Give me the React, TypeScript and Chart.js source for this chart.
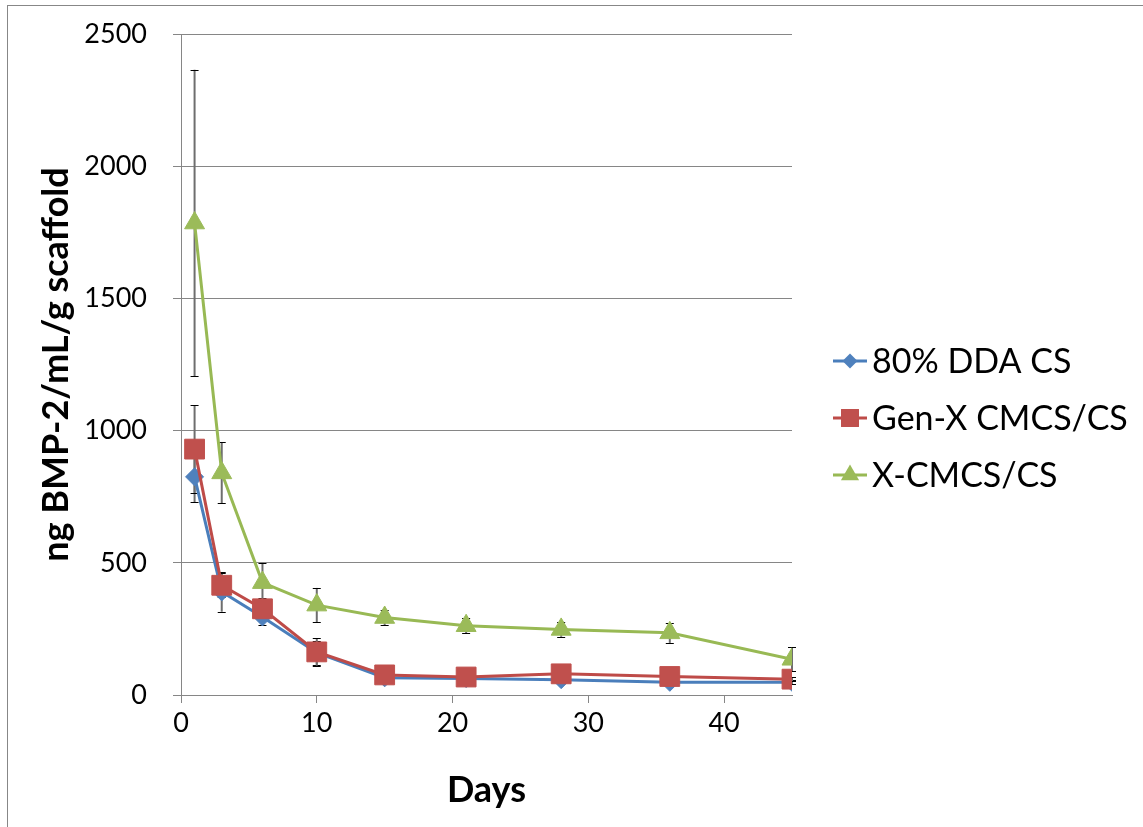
import React, { useEffect, useRef } from 'react';
import { Chart, registerables } from 'chart.js';

Chart.register(...registerables);

// ---- Data ----
const days = [1, 3, 6, 10, 15, 21, 28, 36, 45];
const seriesNames = ['80% DDA CS', 'Gen-X CMCS/CS', 'X-CMCS/CS'];
const ddaValues = [825, 390, 295, 160, 65, 62, 58, 48, 48];
const ddaErrors = [95, 75, 30, 45, 10, 8, 8, 8, 8];
const genxValues = [930, 415, 326, 163, 76, 68, 80, 70, 60];
const genxErrors = [165, 45, 40, 52, 10, 8, 8, 8, 8];
const xcmcsValues = [1785, 840, 425, 340, 293, 262, 248, 235, 135];
const xcmcsErrors = [580, 115, 75, 65, 30, 28, 28, 38, 45];
const xTicks = [0, 10, 20, 30, 40];
const yTicks = [0, 500, 1000, 1500, 2000, 2500];

const valueSets = [ddaValues, genxValues, xcmcsValues];
const errorSets = [ddaErrors, genxErrors, xcmcsErrors];
const lineColors = ['#4A7EBB', '#BE4B48', '#98B954'];
const fillColors = ['#4F81BD', '#C0504D', '#9BBB59'];
const pointStyles = ['rectRot', 'rect', 'triangle'];
const pointRadii = [9, 14, 11.5];

const FONT = 'Lato, "Open Sans", sans-serif';

function drawMarker(ctx: CanvasRenderingContext2D, style: string, x: number, y: number, r: number, color: string) {
  ctx.fillStyle = color;
  ctx.beginPath();
  if (style === 'rectRot') {
    ctx.moveTo(x, y - r);
    ctx.lineTo(x + r, y);
    ctx.lineTo(x, y + r);
    ctx.lineTo(x - r, y);
  } else if (style === 'rect') {
    const s = r * Math.SQRT1_2;
    ctx.rect(x - s, y - s, 2 * s, 2 * s);
  } else {
    ctx.moveTo(x, y - r);
    ctx.lineTo(x + r * Math.sin((2 * Math.PI) / 3), y + r / 2);
    ctx.lineTo(x - r * Math.sin((2 * Math.PI) / 3), y + r / 2);
  }
  ctx.closePath();
  ctx.fill();
}

const framePlugin = {
  id: 'frame',
  beforeDraw(chart: any) {
    const { ctx, width, height } = chart;
    ctx.save();
    ctx.fillStyle = '#ffffff';
    ctx.fillRect(0, 0, width, height);
    ctx.strokeStyle = '#878787';
    ctx.lineWidth = 1;
    ctx.strokeRect(7.5, 5.5, width + 10, height + 10);
    ctx.restore();
  },
};

const errorBarPlugin = {
  id: 'errorBars',
  beforeDatasetsDraw(chart: any) {
    const { ctx } = chart;
    const xs = chart.scales.x;
    const ys = chart.scales.y;
    ctx.save();
    errorSets.forEach((errs, i) => {
      const vals = valueSets[i];
      days.forEach((d, j) => {
        const px = xs.getPixelForValue(d);
        const top = ys.getPixelForValue(vals[j] + errs[j]);
        const bot = ys.getPixelForValue(Math.max(0, vals[j] - errs[j]));
        ctx.strokeStyle = '#6e6e6e';
        ctx.lineWidth = 2;
        ctx.beginPath();
        ctx.moveTo(px, top);
        ctx.lineTo(px, bot);
        ctx.stroke();
        ctx.strokeStyle = '#000000';
        ctx.lineWidth = 1;
        ctx.beginPath();
        const t = Math.round(top) + 0.5;
        const b = Math.round(bot) + 0.5;
        ctx.moveTo(px - 4, t);
        ctx.lineTo(px + 4, t);
        ctx.moveTo(px - 4, b);
        ctx.lineTo(px + 4, b);
        ctx.stroke();
      });
    });
    ctx.restore();
  },
};

const legendPlugin = {
  id: 'customLegend',
  afterDraw(chart: any) {
    const { ctx } = chart;
    ctx.save();
    const radii = [7.5, 12.7, 10.5];
    seriesNames.forEach((name, i) => {
      const y = 361 + i * 57;
      ctx.strokeStyle = lineColors[i];
      ctx.lineWidth = 3;
      ctx.beginPath();
      ctx.moveTo(833, y);
      ctx.lineTo(867, y);
      ctx.stroke();
      drawMarker(ctx, pointStyles[i], 850, y, radii[i], fillColors[i]);
      ctx.fillStyle = '#000000';
      ctx.font = `34px ${FONT}`;
      ctx.textBaseline = 'middle';
      ctx.textAlign = 'left';
      ctx.fillText(name, 872, y + 1);
    });
    ctx.restore();
  },
};

export default function App() {
  const ref = useRef<HTMLCanvasElement>(null);

  useEffect(() => {
    const canvas = ref.current;
    if (!canvas) return;
    const datasets = seriesNames.map((name, i) => ({
      label: name,
      data: days.map((d, j) => ({ x: d, y: valueSets[i][j] })),
      showLine: true,
      borderColor: lineColors[i],
      borderWidth: 3,
      backgroundColor: fillColors[i],
      pointBackgroundColor: fillColors[i],
      pointBorderColor: fillColors[i],
      pointBorderWidth: 1,
      pointStyle: pointStyles[i],
      pointRadius: pointRadii[i],
      pointHoverRadius: pointRadii[i],
      tension: 0,
      order: 3 - i,
    }));

    const chart = new Chart(canvas, {
      type: 'scatter',
      data: { datasets } as any,
      options: {
        responsive: false,
        animation: false,
        events: [],
        layout: { padding: { top: 34, right: 351, left: 0, bottom: 0 } },
        plugins: {
          legend: { display: false },
          tooltip: { enabled: false },
        },
        scales: {
          x: {
            type: 'linear',
            min: 0,
            max: 45,
            afterBuildTicks: (s: any) => {
              s.ticks = xTicks.map((v) => ({ value: v }));
            },
            afterFit: (s: any) => {
              s.height = 132;
              s.paddingLeft = 0;
              s.paddingRight = 0;
            },
            grid: {
              drawOnChartArea: false,
              color: '#868686',
              tickColor: '#868686',
              tickLength: 8,
            },
            border: { color: '#868686', width: 1 },
            ticks: {
              font: { family: FONT, size: 27 },
              color: '#000000',
              padding: 4,
              maxRotation: 0,
              autoSkip: false,
              callback: (v: any) => String(v),
            },
            title: {
              display: true,
              text: 'Days',
              color: '#000000',
              font: { family: FONT, size: 36, weight: 'bold' },
              padding: { top: 0, bottom: 15 },
            },
          },
          y: {
            type: 'linear',
            min: 0,
            max: 2500,
            afterBuildTicks: (s: any) => {
              s.ticks = yTicks.map((v) => ({ value: v }));
            },
            afterFit: (s: any) => {
              s.width = 181;
              s.paddingTop = 0;
              s.paddingBottom = 0;
            },
            grid: {
              color: '#868686',
              tickColor: '#868686',
              tickLength: 8,
            },
            border: { color: '#868686', width: 1 },
            ticks: {
              font: { family: FONT, size: 27 },
              color: '#000000',
              padding: 26,
              callback: (v: any) => String(v),
            },
            title: {
              display: true,
              text: 'ng BMP-2/mL/g scaffold',
              color: '#000000',
              font: { family: FONT, size: 36, weight: 'bold' },
              padding: { top: 35, bottom: 0 },
            },
          },
        },
      } as any,
      plugins: [framePlugin, errorBarPlugin, legendPlugin],
    });
    return () => chart.destroy();
  }, []);

  return (
    <div style={{ position: 'absolute', left: 0, top: 0, width: 1143, height: 827, background: '#ffffff' }}>
      <canvas ref={ref} width={1143} height={827} style={{ display: 'block', width: 1143, height: 827 }} />
    </div>
  );
}
